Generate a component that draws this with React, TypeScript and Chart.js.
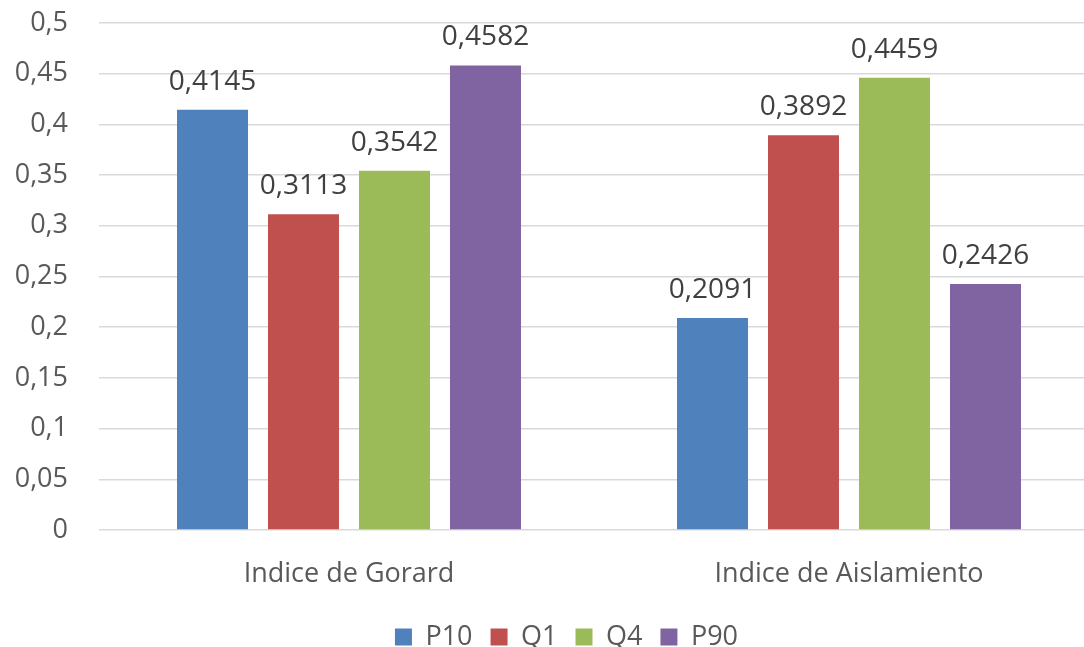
import React, { useEffect, useRef } from "react";
import { Chart, registerables } from "chart.js";

Chart.register(...registerables);

const categories = ["Indice de Gorard", "Indice de Aislamiento"];
const seriesNames = ["P10", "Q1", "Q4", "P90"];
const p10Values = [0.4145, 0.2091];
const q1Values = [0.3113, 0.3892];
const q4Values = [0.3542, 0.4459];
const p90Values = [0.4582, 0.2426];
const seriesColors = ["#4F81BD", "#C0504D", "#9BBB59", "#8064A2"];
const yTicks = [0, 0.05, 0.1, 0.15, 0.2, 0.25, 0.3, 0.35, 0.4, 0.45, 0.5];

const FONT = "'Open Sans', 'Noto Sans', sans-serif";

const fmt = (v: number) => String(v).replace(".", ",");

const valueLabels = {
  id: "valueLabels",
  afterDatasetsDraw(chart: any) {
    const ctx = chart.ctx;
    ctx.save();
    ctx.font = `28px ${FONT}`;
    ctx.fillStyle = "#404040";
    ctx.textAlign = "center";
    ctx.textBaseline = "middle";
    chart.data.datasets.forEach((ds: any, i: number) => {
      const meta = chart.getDatasetMeta(i);
      meta.data.forEach((bar: any, j: number) => {
        ctx.fillText(fmt(ds.data[j]), bar.x, bar.y - 28);
      });
    });
    ctx.restore();
  },
};

const legendShift = {
  id: "legendShift",
  afterLayout(chart: any) {
    const lg = chart.legend;
    if (!lg) return;
    const dy = 633 - (lg.top + lg.bottom) / 2;
    const dx = 17;
    lg.top += dy;
    lg.bottom += dy;
    lg.left += dx;
    lg.right += dx;
  },
};

export default function App() {
  const ref = useRef<HTMLCanvasElement | null>(null);
  useEffect(() => {
    if (!ref.current) return;
    const allSeries = [p10Values, q1Values, q4Values, p90Values];
    const chart = new Chart(ref.current, {
      type: "bar",
      data: {
        labels: categories,
        datasets: allSeries.map((d, i) => ({
          label: seriesNames[i],
          data: d,
          backgroundColor: seriesColors[i],
          borderWidth: 0,
          categoryPercentage: 0.728,
          barPercentage: 0.78,
        })),
      },
      options: {
        animation: false,
        responsive: false,
        maintainAspectRatio: false,
        layout: { padding: { top: 23, right: 11, left: 0, bottom: 0 } },
        plugins: {
          legend: {
            position: "bottom",
            labels: {
              boxWidth: 17,
              boxHeight: 17,
              padding: 18,
              color: "#595959",
              font: { family: FONT, size: 27 },
            },
          },
          tooltip: { enabled: false },
        },
        scales: {
          x: {
            grid: { display: false },
            border: { display: false },
            ticks: {
              color: "#595959",
              font: { family: FONT, size: 27, lineHeight: 1 },
              padding: 23,
            },
            afterFit: (s: any) => {
              s.height = 62;
            },
          },
          y: {
            min: 0,
            max: 0.5,
            afterBuildTicks: (s: any) => {
              s.ticks = yTicks.map((v) => ({ value: v }));
            },
            grid: {
              color: "#d9d9d9",
              lineWidth: 1.5,
              drawTicks: true,
              tickLength: 31,
              tickColor: "rgba(0,0,0,0)",
            },
            border: { display: false },
            ticks: {
              color: "#595959",
              font: { family: FONT, size: 27 },
              padding: 0,
              callback: (v: any) => fmt(Number(v)),
            },
            afterFit: (s: any) => {
              s.width = 99;
            },
          },
        },
      },
      plugins: [valueLabels, legendShift],
    });
    return () => chart.destroy();
  }, []);
  return (
    <div
      style={{
        position: "fixed",
        left: 0,
        top: 0,
        width: 1084,
        height: 647,
        overflow: "hidden",
        background: "#fff",
      }}
    >
      <canvas ref={ref} width={1110} height={647} style={{ width: 1110, height: 647, display: "block" }} />
    </div>
  );
}
